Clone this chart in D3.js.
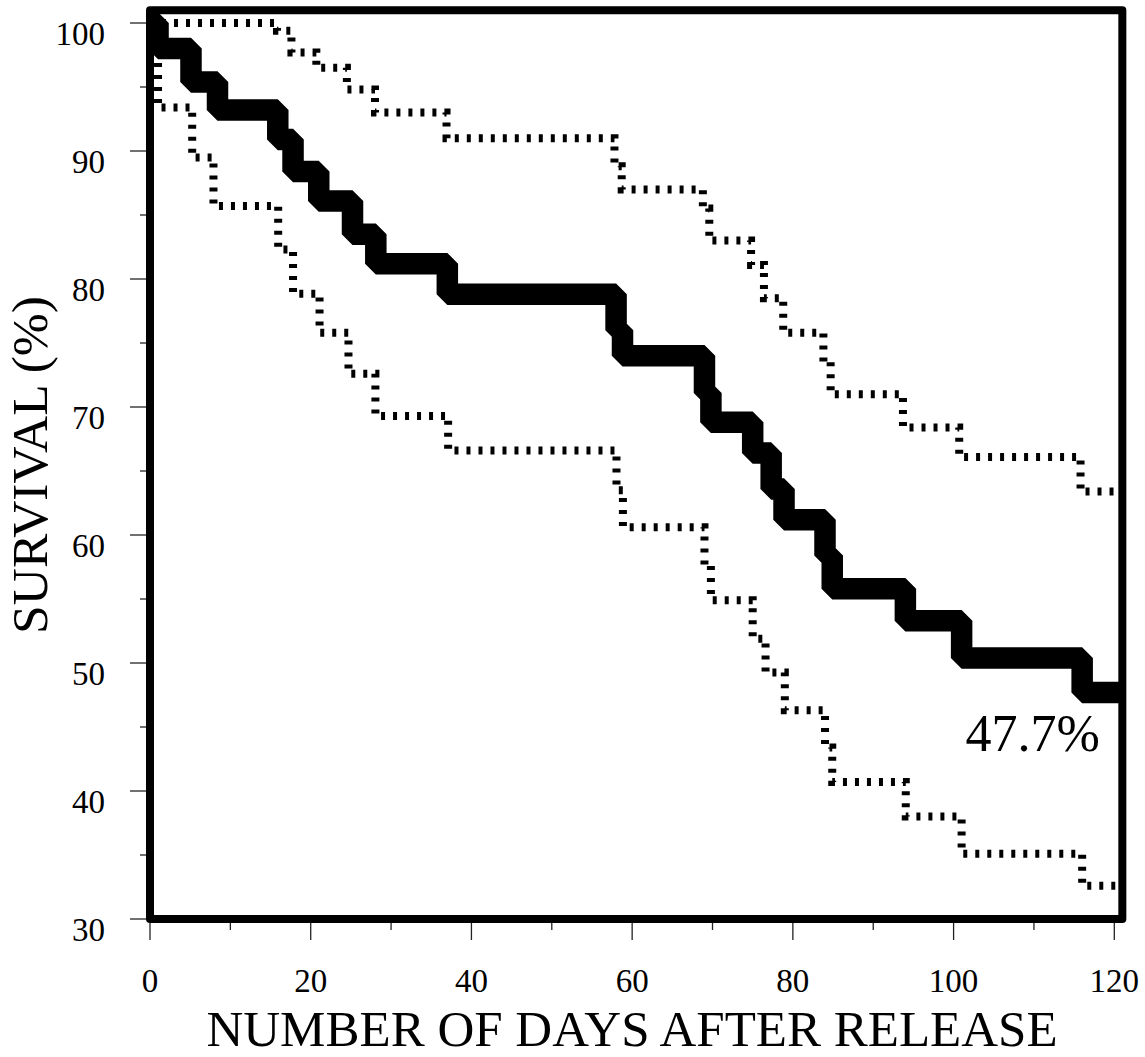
<!DOCTYPE html>
<html>
<head>
<meta charset="utf-8">
<script src="https://cdn.jsdelivr.net/npm/d3@7"></script>
<style>
html, body { margin: 0; padding: 0; background: #fff; }
svg { display: block; }
text { font-family: "Liberation Serif", "Times New Roman", serif; fill: #000; }
</style>
</head>
<body>
<svg id="chart" width="1145" height="1057"></svg>
<script>
// Kaplan–Meier survival estimate (%) by day after release
const kmDays = [0, 1, 5.1, 8.4, 15.9, 17.8, 21.0, 25.2, 28.1, 37.0, 58.0, 58.8, 69.0, 69.8, 75.0, 77.3, 78.9, 84.0, 84.9, 94.0, 101.0, 116.0];
const kmSurvival = [100, 98.0, 95.4, 93.2, 90.9, 88.4, 86.1, 83.5, 81.2, 78.8, 76.0, 74.0, 71.1, 68.8, 66.4, 63.6, 61.2, 58.4, 55.8, 53.3, 50.4, 47.7];

// upper confidence bound
const upperDays = [0, 15.8, 17.6, 20.7, 24.5, 28.0, 36.9, 57.8, 58.7, 68.8, 69.6, 74.8, 76.4, 78.8, 83.8, 84.7, 93.7, 100.7, 115.8];
const upperSurvival = [100, 99.4, 97.7, 96.5, 94.8, 93.0, 91.0, 88.8, 87.0, 85.5, 83.0, 81.1, 78.5, 75.8, 73.5, 71.0, 68.4, 66.1, 63.4];

// lower confidence bound
const lowerDays = [0, 1.0, 5.25, 7.9, 15.95, 17.8, 21.1, 24.7, 28.05, 37.1, 58.05, 58.85, 69.0, 69.8, 75.0, 76.6, 79.0, 84.0, 84.9, 94.05, 101.0, 116.0];
const lowerSurvival = [100, 93.4, 89.5, 85.7, 82.3, 78.85, 75.8, 72.6, 69.3, 66.6, 63.5, 60.6, 57.6, 54.9, 51.9, 49.25, 46.3, 43.4, 40.7, 38.0, 35.1, 32.6];

// axis ticks
const xTicks = [0, 20, 40, 60, 80, 100, 120];
const xMinorTicks = [10, 30, 50, 70, 90, 110];
const yTicks = [30, 40, 50, 60, 70, 80, 90, 100];
const yMinorTicks = [35, 45, 55, 65, 75, 85, 95];

// extent of the plot frame (it runs slightly past the last tick)
const frameDays = [0, 121];
const frameSurvival = [30, 101];

const svg = d3.select("#chart");

const x = d3.scaleLinear().domain([0, 120]).range([150, 1114.3]);
const y = d3.scaleLinear().domain([30, 100]).range([919, 23]);

const stepLine = d3.line()
  .x(d => x(d[0]))
  .y(d => y(d[1]))
  .curve(d3.curveStepAfter);

function series(days, values) {
  const pts = days.map((d, i) => [d, values[i]]);
  pts.push([frameDays[1], values[values.length - 1]]);
  return pts;
}

// ---- tick marks outside the frame ----
const tickG = svg.append("g").attr("stroke", "#222").attr("stroke-width", 1.3);
const frameLeft = x(frameDays[0]) - 4;
const frameBottom = y(frameSurvival[0]) + 4;

tickG.selectAll(".ymaj").data(yTicks).join("line")
  .attr("x1", frameLeft - 16).attr("x2", frameLeft)
  .attr("y1", d => y(d)).attr("y2", d => y(d));
tickG.selectAll(".ymin").data(yMinorTicks).join("line")
  .attr("x1", frameLeft - 6).attr("x2", frameLeft)
  .attr("y1", d => y(d)).attr("y2", d => y(d));
tickG.selectAll(".xmaj").data(xTicks).join("line")
  .attr("x1", d => x(d)).attr("x2", d => x(d))
  .attr("y1", frameBottom).attr("y2", frameBottom + 17);
tickG.selectAll(".xmin").data(xMinorTicks).join("line")
  .attr("x1", d => x(d)).attr("x2", d => x(d))
  .attr("y1", frameBottom).attr("y2", frameBottom + 7);

// ---- tick labels ----
svg.append("g").selectAll("text").data(yTicks).join("text")
  .attr("x", 105).attr("y", d => y(d) + 22)
  .attr("text-anchor", "end")
  .attr("font-size", 33)
  .text(d => d);

svg.append("g").selectAll("text").data(xTicks).join("text")
  .attr("x", d => x(d)).attr("y", 992)
  .attr("text-anchor", "middle")
  .attr("font-size", 33)
  .text(d => d);

// ---- axis titles ----
svg.append("text")
  .attr("transform", "translate(47,465) rotate(-90)")
  .attr("text-anchor", "middle")
  .attr("font-size", 51.5)
  .text("SURVIVAL (%)");

svg.append("text")
  .attr("x", 632).attr("y", 1046)
  .attr("text-anchor", "middle")
  .attr("font-size", 51)
  .text("NUMBER OF DAYS AFTER RELEASE");

// ---- confidence bounds (dotted) ----
const ciG = svg.append("g")
  .attr("fill", "none")
  .attr("stroke", "#000")
  .attr("stroke-width", 8)
  .attr("stroke-dasharray", "4 8")
  .attr("stroke-linejoin", "miter");
ciG.append("path").attr("d", stepLine(series(upperDays, upperSurvival)));
ciG.append("path").attr("d", stepLine(series(lowerDays, lowerSurvival)));

// ---- survival curve (heavy step line) ----
svg.append("path")
  .attr("d", stepLine(series(kmDays, kmSurvival)))
  .attr("fill", "none")
  .attr("stroke", "#000")
  .attr("stroke-width", 21.5)
  .attr("stroke-linejoin", "bevel")
  .attr("stroke-linecap", "butt");

// ---- frame ----
svg.append("rect")
  .attr("x", x(frameDays[0]))
  .attr("y", y(frameSurvival[1]))
  .attr("width", x(frameDays[1]) - x(frameDays[0]))
  .attr("height", y(frameSurvival[0]) - y(frameSurvival[1]))
  .attr("fill", "none")
  .attr("stroke", "#000")
  .attr("stroke-width", 8)
  .attr("stroke-linejoin", "round");

// ---- final survival label ----
const finalSurvival = kmSurvival[kmSurvival.length - 1];
svg.append("text")
  .attr("x", x(118.2))
  .attr("y", y(finalSurvival) + 59)
  .attr("text-anchor", "end")
  .attr("font-size", 52)
  .text(d3.format(".1f")(finalSurvival) + "%");
</script>
</body>
</html>
